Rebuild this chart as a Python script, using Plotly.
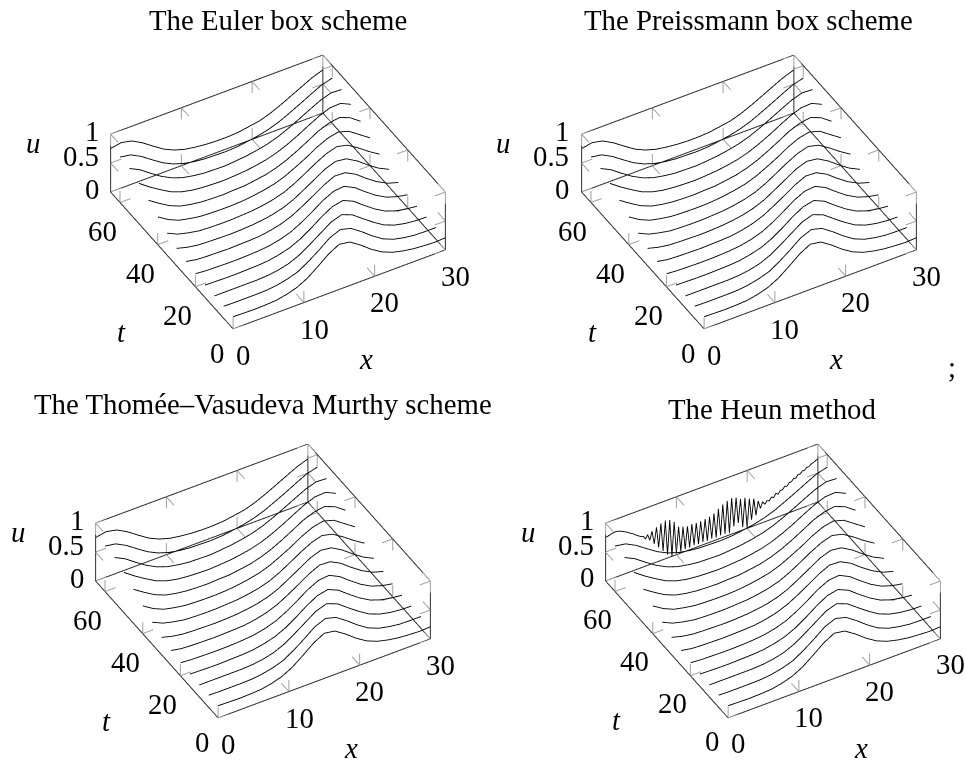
import plotly.graph_objects as go

WIDTH, HEIGHT = 966, 762
FONT = "Liberation Serif"
FONT_SIZE = 28.8

x_grid = [0, 1.5, 3, 4.5, 6, 7.5, 9, 10.5, 12, 13.5, 15, 16.5, 18, 19.5, 21, 22.5, 24, 25.5, 27, 28.5, 30]
t_levels = [0, 5, 10, 15, 20, 25, 30, 35, 40, 45, 50, 55, 60, 65]

# u(x) at each time level (the three box schemes look the same at this size)
u_t0 = [.21, .205, .20, .205, .215, .25, .305, .40, .535, .68, .78, .75, .63, .49, .375, .30, .255, .225, .21, .20, .21]
u_t5 = [.21, .205, .205, .205, .21, .23, .27, .33, .44, .57, .71, .785, .735, .61, .47, .35, .275, .235, .21, .205, .205]
u_t10 = [.205, .205, .205, .205, .205, .215, .24, .285, .365, .48, .605, .73, .79, .72, .585, .455, .34, .27, .23, .21, .205]
u_t15 = [.21, .205, .20, .20, .205, .21, .225, .26, .31, .395, .51, .64, .745, .785, .705, .565, .435, .33, .265, .23, .21]
u_t20 = [.225, .21, .205, .20, .20, .205, .215, .235, .275, .335, .43, .545, .67, .76, .78, .69, .55, .42, .32, .26, .225]
u_t25 = [.255, .22, .21, .205, .20, .205, .21, .22, .25, .295, .365, .465, .575, .69, .775, .765, .67, .53, .405, .31, .255]
u_t30 = [.30, .25, .22, .21, .205, .20, .205, .215, .235, .265, .315, .39, .495, .605, .715, .78, .755, .65, .515, .39, .30]
u_t35 = [.38, .295, .25, .215, .205, .20, .20, .21, .22, .245, .28, .335, .42, .525, .635, .73, .785, .74, .625, .495, .38]
u_t40 = [.48, .365, .285, .245, .215, .205, .20, .20, .21, .23, .26, .30, .365, .455, .55, .66, .745, .785, .73, .605, .48]
u_t45 = [.585, .465, .355, .28, .24, .215, .205, .20, .21, .215, .24, .27, .32, .39, .48, .58, .685, .755, .785, .715, .585]
u_t50 = [.695, .565, .45, .345, .275, .235, .215, .205, .20, .21, .225, .25, .285, .34, .415, .505, .605, .70, .77, .78, .695]
u_t55 = [.77, .68, .55, .43, .335, .27, .235, .21, .205, .20, .215, .235, .265, .305, .365, .445, .535, .63, .72, .78, .77]
u_t60 = [.785, .755, .66, .535, .415, .325, .265, .23, .21, .205, .20, .21, .235, .265, .31, .375, .46, .55, .645, .735, .785]
u_t65 = [.75, .785, .745, .645, .52, .40, .315, .26, .23, .21, .20, .20, .21, .24, .27, .33, .41, .50, .59, .68, .745]
u_rows = [u_t0, u_t5, u_t10, u_t15, u_t20, u_t25, u_t30, u_t35, u_t40, u_t45, u_t50, u_t55, u_t60, u_t65]

# the last level of the Heun run oscillates cell by cell, so it has its own finer grid
x_heun = [i * 0.3125 for i in range(97)]
u_heun_t65 = [.75, .76, .77, .78, .785, .785, .775, .76, .74, .72, .70, .67, .65, .62, .59, .565, .54,
              .53, .47, .53, .42, .56, .33, .60, .24, .64, .15, .66, .06, .64, .0, .58, .02, .47, .03, .44,
              .04, .42, .04, .43, .05, .42, .04, .42, .05, .43, .04, .44, .05, .47, .04, .52, .05, .57,
              .05, .60, .03, .62, .12, .60, .15, .55, .05, .54, .0, .50, .12, .47, .17, .40, .26, .36, .30,
              .35, .33, .385, .36, .42, .39, .44, .44, .485, .47, .52, .52, .56, .555, .60, .60, .635,
              .635, .67, .67, .70, .71, .73, .745]

x_ticks = [0, 10, 20, 30]
t_ticks = [0, 20, 40, 60]
u_ticks = [0, 0.5, 1]
u_tick_labels = ["0", "0.5", "1"]

titles = ["The Euler box scheme", "The Preissmann box scheme",
          "The Thomée–Vasudeva Murthy scheme", "The Heun method"]

X_RANGE = [0, 30]
T_RANGE = [0, 65]
U_RANGE = [0, 1]

# pixel centre of each 3D box in the page, and of each title
box_centres = [(278.3, 192.1), (748.7, 192.1), (263.3, 581.1), (773.0, 580.5)]
title_pos = [(278, 20), (748, 20), (262.5, 404), (772, 409)]
SCENE_W, SCENE_H = 380, 300
EYE_R = 2.0


def edge_lines():
    x0, x1 = X_RANGE
    t0, t1 = T_RANGE
    u0, u1 = U_RANGE
    corners = [
        [(x0, t0, u0), (x1, t0, u0), (x1, t0, u1)],
        [(x0, t0, u0), (x0, t1, u0), (x0, t1, u1), (x1, t1, u1), (x1, t0, u1)],
        [(x0, t1, u0), (x1, t1, u0), (x1, t0, u0)],
        [(x1, t1, u0), (x1, t1, u1)],
    ]
    xs, ys, zs = [], [], []
    for path in corners:
        for p in path:
            xs.append(p[0])
            ys.append(p[1])
            zs.append(p[2])
        xs.append(None)
        ys.append(None)
        zs.append(None)
    return xs, ys, zs


def tick_lines():
    x0, x1 = X_RANGE
    t0, t1 = T_RANGE
    u0, u1 = U_RANGE
    dx, dt, du = 1.5, 4.0, 0.2
    xs, ys, zs = [], [], []

    def stub(p, q):
        xs.extend([p[0], q[0], None])
        ys.extend([p[1], q[1], None])
        zs.extend([p[2], q[2], None])

    for x in x_ticks:
        for t, sign_t in [(t0, 1), (t1, -1)]:
            for u, sign_u in [(u0, 1), (u1, -1)]:
                if t == t0 and u == u1:
                    continue
                stub((x, t, u), (x, t + sign_t * dt, u))
                stub((x, t, u), (x, t, u + sign_u * du))
    for t in t_ticks:
        for x, sign_x in [(x0, 1), (x1, -1)]:
            for u, sign_u in [(u0, 1), (u1, -1)]:
                if x == x0 and u == u1:
                    continue
                stub((x, t, u), (x + sign_x * dx, t, u))
                stub((x, t, u), (x, t, u + sign_u * du))
    for u in u_ticks:
        for x, t, sign_x, sign_t in [(x0, t1, 1, -1), (x1, t0, -1, 1), (x1, t1, -1, -1)]:
            stub((x, t, u), (x + sign_x * dx, t, u))
            stub((x, t, u), (x, t + sign_t * dt, u))
    return xs, ys, zs


def scene_annotations():
    font = dict(family=FONT, size=FONT_SIZE, color="black")
    anns = []

    def add(x, t, u, text, dx, dy, xanchor="center"):
        anns.append(dict(x=x, y=t, z=u, text=text, showarrow=False, font=font,
                         xanchor=xanchor, yanchor="middle", xshift=dx, yshift=-dy))

    for x in x_ticks:
        add(x, 0, 0, str(x), 10, 26)
    for t in t_ticks:
        if t == 0:
            add(0, t, 0, str(t), -16, 24)
        else:
            add(0, t, 0, str(t), -18, 28)
    for u, lab in zip(u_ticks, u_tick_labels):
        add(0, 65, u, lab, -10, -6.7 if lab == "0.5" else -3, "right")
    add(0, 65, 1, "<i>u</i>", -78, 9)
    add(0, 20, 0, "<i>t</i>", -74, 45)
    add(20, 0, 0, "<i>x</i>", -9, 83)
    return anns


fig = go.Figure()
edge_x, edge_t, edge_u = edge_lines()
tick_x, tick_t, tick_u = tick_lines()

for n in range(4):
    scene = "scene" if n == 0 else f"scene{n + 1}"
    fig.add_trace(go.Scatter3d(x=tick_x, y=tick_t, z=tick_u, mode="lines", scene=scene,
                               line=dict(color="#a0a0a0", width=2), hoverinfo="skip", showlegend=False))
    fig.add_trace(go.Scatter3d(x=edge_x, y=edge_t, z=edge_u, mode="lines", scene=scene,
                               line=dict(color="#2e2e2e", width=2), hoverinfo="skip", showlegend=False))
    for t, row in zip(t_levels, u_rows):
        xs, us = x_grid, row
        if t == t_levels[-1]:
            if n == 3:
                xs, us = x_heun, u_heun_t65
            # the last level drops back to zero at the right end
            xs = list(xs) + [xs[-1]]
            us = list(us) + [0]
        fig.add_trace(go.Scatter3d(x=xs, y=[t] * len(xs), z=us, mode="lines", scene=scene,
                                   line=dict(color="#000000", width=1.8), hoverinfo="skip", showlegend=False))

axis = dict(visible=False, showspikes=False)
eye_dir = (-0.382, -0.662, 0.645)
for n, (cx, cy) in enumerate(box_centres):
    name = "scene" if n == 0 else f"scene{n + 1}"
    fig.update_layout({name: dict(
        domain=dict(x=[(cx - SCENE_W / 2) / WIDTH, (cx + SCENE_W / 2) / WIDTH],
                    y=[1 - (cy + SCENE_H / 2) / HEIGHT, 1 - (cy - SCENE_H / 2) / HEIGHT]),
        xaxis=dict(axis, range=X_RANGE),
        yaxis=dict(axis, range=T_RANGE),
        zaxis=dict(axis, range=U_RANGE),
        aspectmode="manual",
        # in orthographic mode the drawn size follows the aspect ratio, not the eye distance
        aspectratio=dict(x=1.634, y=1.634, z=0.505),
        camera=dict(projection=dict(type="orthographic"), up=dict(x=0, y=0, z=1),
                    center=dict(x=0, y=0, z=0),
                    eye=dict(x=eye_dir[0] * EYE_R, y=eye_dir[1] * EYE_R, z=eye_dir[2] * EYE_R)),
        annotations=scene_annotations(),
        dragmode=False,
        bgcolor="white",
    )})

page_notes = []
for text, (px, py) in zip(titles + [";"], title_pos + [(952, 367)]):
    page_notes.append(dict(text=text, x=px / WIDTH, y=1 - py / HEIGHT,
                           xref="paper", yref="paper", showarrow=False,
                           xanchor="center", yanchor="middle",
                           font=dict(family=FONT, size=FONT_SIZE, color="black")))

fig.update_layout(width=WIDTH, height=HEIGHT, margin=dict(l=0, r=0, t=0, b=0),
                  paper_bgcolor="white", annotations=page_notes, showlegend=False)

# the page's default body margin would push the figure off the right edge of the window
fig.write_html("out.html", config={"displayModeBar": False},
               post_script="document.body.style.margin='0';")
